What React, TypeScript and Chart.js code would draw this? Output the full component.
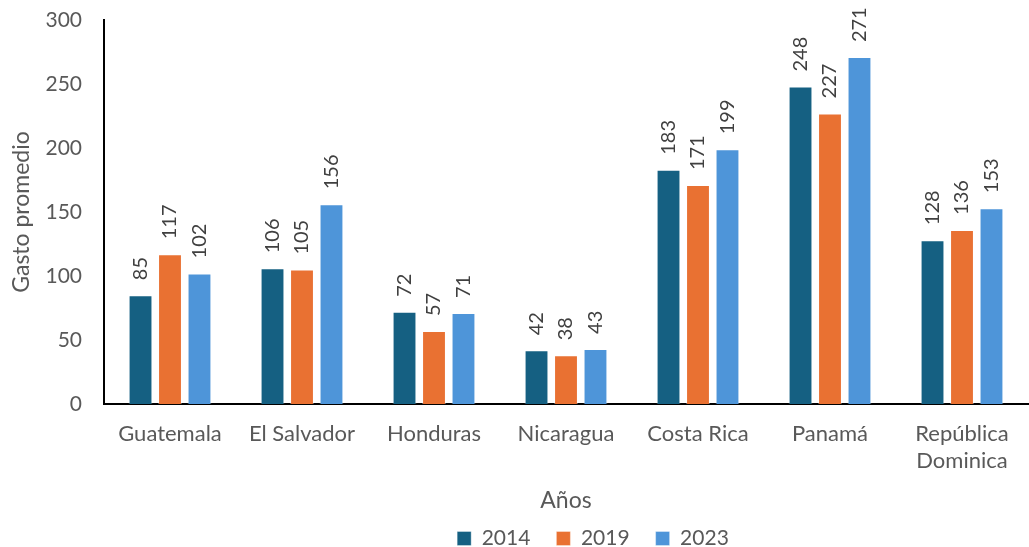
import React, { useEffect, useRef } from "react";
import { Chart, registerables } from "chart.js";

Chart.register(...registerables);

const categories: (string | string[])[] = [
  "Guatemala",
  "El Salvador",
  "Honduras",
  "Nicaragua",
  "Costa Rica",
  "Panamá",
  ["República", "Dominica"],
];
const series2014 = [85, 106, 72, 42, 183, 248, 128];
const series2019 = [117, 105, 57, 38, 171, 227, 136];
const series2023 = [102, 156, 71, 43, 199, 271, 153];
const seriesNames = ["2014", "2019", "2023"];
const seriesColors = ["#156082", "#E97132", "#4E95D9"];

const FONT = "Lato, 'Open Sans', sans-serif";

const valueLabels = {
  id: "valueLabels",
  afterDatasetsDraw(chart: any) {
    const ctx = chart.ctx;
    ctx.save();
    ctx.fillStyle = "#404040";
    ctx.font = `20px ${FONT}`;
    ctx.textAlign = "left";
    ctx.textBaseline = "middle";
    chart.data.datasets.forEach((ds: any, i: number) => {
      const meta = chart.getDatasetMeta(i);
      meta.data.forEach((el: any, j: number) => {
        ctx.save();
        ctx.translate(el.x, el.y - 15);
        ctx.rotate(-Math.PI / 2);
        ctx.fillText(String(ds.data[j]), 0, 0);
        ctx.restore();
      });
    });
    ctx.restore();
  },
};

const legendShift = {
  id: "legendShift",
  afterLayout(chart: any) {
    const l = chart.legend;
    if (l) {
      l.left += 79;
      l.right += 79;
    }
  },
};

export default function App() {
  const ref = useRef<HTMLCanvasElement>(null);
  useEffect(() => {
    if (!ref.current) return;
    const data = [series2014, series2019, series2023];
    const chart = new Chart(ref.current, {
      type: "bar",
      data: {
        labels: categories,
        datasets: seriesNames.map((n, i) => ({
          label: n,
          data: data[i],
          backgroundColor: seriesColors[i],
          borderColor: "rgba(255,255,255,0.35)",
          borderWidth: 1,
          categoryPercentage: 0.67,
          barPercentage: 0.81,
        })),
      },
      options: {
        responsive: false,
        animation: false,
        layout: { padding: { top: 20, right: 1, left: 0, bottom: 0 } },
        plugins: {
          tooltip: { enabled: false },
          legend: {
            position: "bottom",
            labels: {
              boxWidth: 14,
              boxHeight: 14,
              padding: 26,
              color: "#595959",
              font: { family: FONT, size: 21 },
            },
          },
        },
        scales: {
          x: {
            grid: { display: false, drawTicks: false },
            border: { display: true, color: "#000", width: 2 },
            ticks: {
              color: "#595959",
              font: { family: FONT, size: 22 },
              padding: 17,
              maxRotation: 0,
              autoSkip: false,
            },
            title: {
              display: true,
              text: "Años",
              color: "#595959",
              font: { family: FONT, size: 23 },
              padding: { top: 0, bottom: -12 },
            },
            afterFit(scale: any) {
              scale.height = 98;
              scale.paddingLeft = 0;
              scale.paddingRight = 0;
            },
          },
          y: {
            min: 0,
            max: 300,
            grid: { display: false, drawTicks: false },
            border: { display: true, color: "#000", width: 2 },
            ticks: {
              stepSize: 50,
              color: "#595959",
              font: { family: FONT, size: 21 },
              padding: 22,
            },
            title: {
              display: true,
              text: "Gasto promedio",
              color: "#595959",
              font: { family: FONT, size: 23 },
              padding: { top: 8, bottom: 0 },
            },
            afterFit(scale: any) {
              scale.width = 104;
              scale.paddingTop = 0;
              scale.paddingBottom = 0;
            },
          },
        },
      },
      plugins: [valueLabels, legendShift],
    });
    return () => chart.destroy();
  }, []);
  return (
    <div
      style={{
        position: "fixed",
        left: 0,
        top: 0,
        width: 1029,
        height: 547,
        overflow: "hidden",
        background: "#fff",
      }}
    >
      <canvas ref={ref} width={1029} height={559} />
    </div>
  );
}
